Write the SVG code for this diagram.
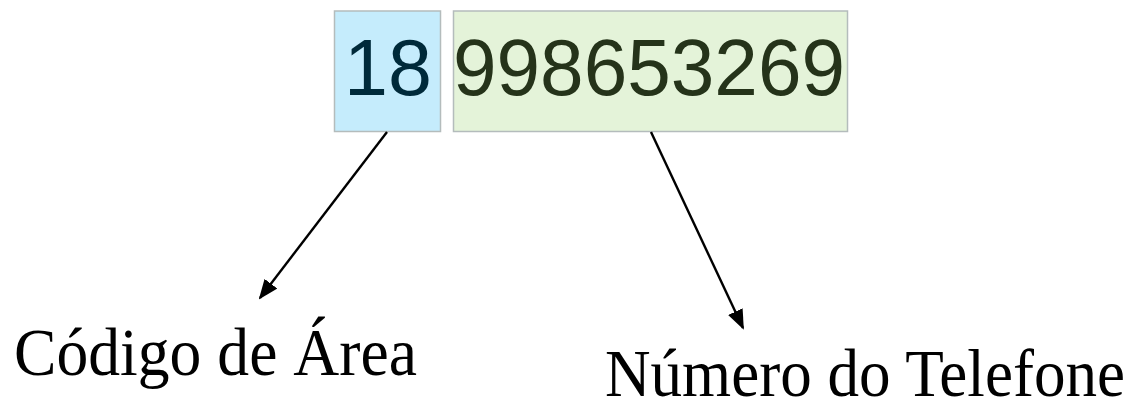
<svg xmlns="http://www.w3.org/2000/svg" width="1134" height="403" viewBox="0 0 1134 403">
  <style>
    .box { stroke: #b4bcbc; stroke-width: 1.5; }
    .num { font-family: "Liberation Sans", Arial, sans-serif; font-size: 79px; }
    .label { font-family: "Liberation Serif", "Times New Roman", serif; fill: #000; }
    .conn { stroke: #000; stroke-width: 2.4; fill: none; marker-end: url(#arrow); }
  </style>
  <defs>
    <marker id="arrow" markerUnits="userSpaceOnUse" markerWidth="20" markerHeight="16" viewBox="0 0 20 16" refX="18" refY="8" orient="auto">
      <path d="M0,0 L20,8 L0,16 Z" fill="#000"/>
    </marker>
  </defs>

  <g id="area-code">
    <rect class="box" x="334.5" y="11" width="106" height="120.5" fill="#c5ecfc"/>
    <text class="num" x="344" y="95" fill="#002a3a">18</text>
  </g>

  <g id="phone-number">
    <rect class="box" x="453.5" y="11" width="394" height="120.5" fill="#e4f3d9"/>
    <text class="num" x="453" y="95" fill="#25331a" textLength="392" lengthAdjust="spacingAndGlyphs">998653269</text>
  </g>

  <g id="area-code-label">
    <text class="label" x="14" y="375" font-size="68" textLength="403" lengthAdjust="spacingAndGlyphs">Código de Área</text>
  </g>

  <g id="phone-number-label">
    <text class="label" x="605" y="396" font-size="68" textLength="520" lengthAdjust="spacingAndGlyphs">Número do Telefone</text>
  </g>

  <g id="connectors">
    <line class="conn" x1="387" y1="132" x2="260" y2="298"/>
    <line class="conn" x1="651" y1="132" x2="743" y2="328"/>
  </g>
</svg>
